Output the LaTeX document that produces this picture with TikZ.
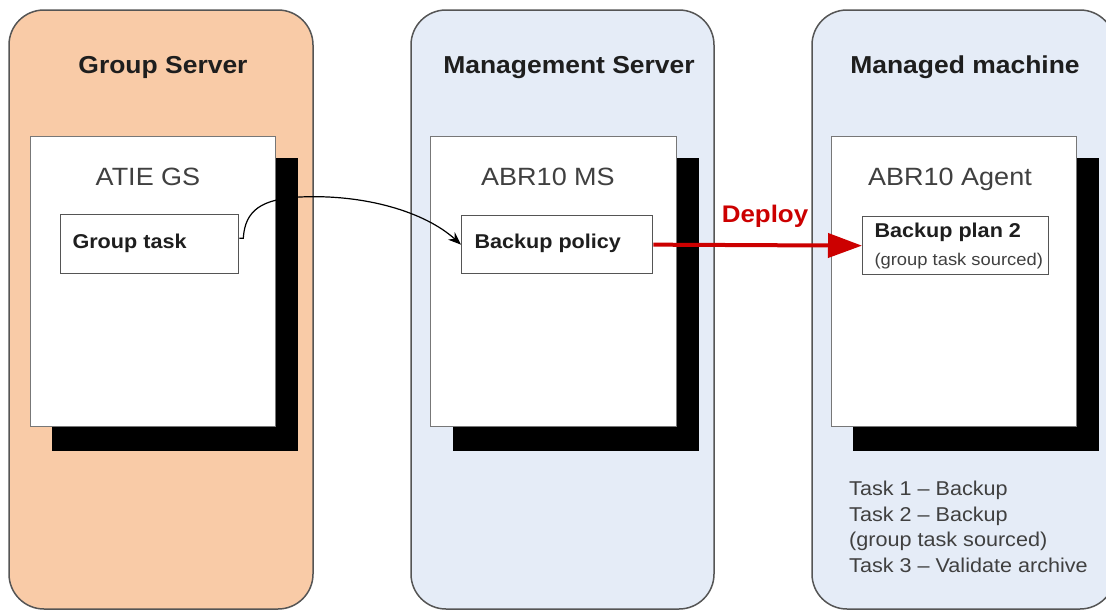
\documentclass[tikz,border=0pt]{standalone}
\usepackage{fontspec}
\setmainfont[FakeStretch=1.08]{Liberation Sans}
\usetikzlibrary{arrows.meta}
\definecolor{orangefill}{RGB}{249,203,167}
\definecolor{bluefill}{RGB}{229,236,247}
\definecolor{edge}{RGB}{85,85,85}
\definecolor{deployred}{RGB}{204,0,0}
\definecolor{txt}{RGB}{30,30,30}
\begin{document}
\begin{tikzpicture}[x=1pt,y=-1pt,
  panel/.style={draw=edge, line width=1.5pt, rounded corners=35pt},
  hostbox/.style={draw=edge!80, fill=white, line width=1pt, anchor=north west, inner sep=0pt},
  shadowbox/.style={fill=black, draw=none},
  inbox/.style={draw=edge, fill=white, line width=1.3pt, anchor=north west, inner sep=0pt},
  title/.style={font=\fontsize{24.5}{30}\selectfont\bfseries, text=txt, anchor=base},
  host/.style={font=\fontsize{25}{30}\selectfont, text=txt!85, anchor=base},
  boxlabel/.style={font=\fontsize{20}{24}\selectfont\bfseries, text=txt, anchor=base west},
  small/.style={font=\fontsize{17}{20}\selectfont, text=txt!85, anchor=base west},
  tasks/.style={font=\fontsize{20}{25.5}\selectfont, text=txt!85, anchor=north west, align=left, inner sep=0pt}
]
\useasboundingbox (0,0) rectangle (1106,611);
\fill[white] (0,0) rectangle (1106,611);

% panels
\draw[panel, fill=orangefill] (9,10) rectangle (313,609);
\draw[panel, fill=bluefill] (411,10) rectangle (714,609);
\draw[panel, fill=bluefill] (812,10) rectangle (1115,609);

\node[title] (t1) at (163,73) {Group Server};
\node[title] (t2) at (569,73) {Management Server};
\node[title] (t3) at (965,73) {Managed machine};

% shadows
\fill[shadowbox] (52,158) rectangle (298,451);
\fill[shadowbox] (453,158) rectangle (699,451);
\fill[shadowbox] (853,158) rectangle (1099,451);

% host boxes
\node[hostbox, minimum width=245pt, minimum height=290pt] (gs) at (30,136) {};
\node[hostbox, minimum width=246pt, minimum height=290pt] (ms) at (430,136) {};
\node[hostbox, minimum width=245pt, minimum height=290pt] (mm) at (831,136) {};

\node[host] (h1) at (148,185) {ATIE GS};
\node[host] (h2) at (548,185) {ABR10 MS};
\node[host] (h3) at (950,185) {ABR10 Agent};

% inner boxes
\node[inbox, minimum width=178pt, minimum height=59pt] (gt) at (60,214) {};
\node[inbox, minimum width=191pt, minimum height=58pt] (bp) at (461,215) {};
\node[inbox, minimum width=186pt, minimum height=58pt] (plan) at (862,216) {};

\node[boxlabel] (l1) at (69,248) {Group task};
\node[boxlabel] (l2) at (471,248) {Backup policy};
\node[boxlabel] (l3) at (871,237) {Backup plan 2};
\node[small] (l4) at (871,265) {(group task sourced)};

% connectors
\draw[line width=1.2pt, -{Stealth[length=13pt,width=10pt]}]
  ([yshift=6pt]gt.east) -- ++(4,0)
  .. controls (245,210) and (262,199) .. (300,197)
  .. controls (365,194) and (425,212) .. (bp.west);

\draw[deployred, line width=4pt, -{Triangle[length=34pt,width=24pt]}]
  (bp.east) -- (plan.west);
\node[font=\fontsize{24}{28}\selectfont\bfseries, text=deployred, anchor=base] (dep) at (765,222) {Deploy};

\node[tasks] (tl) at (849,481) {Task 1 -- Backup\\Task 2 -- Backup\\(group task sourced)\\Task 3 -- Validate archive};
\end{tikzpicture}
\end{document}
